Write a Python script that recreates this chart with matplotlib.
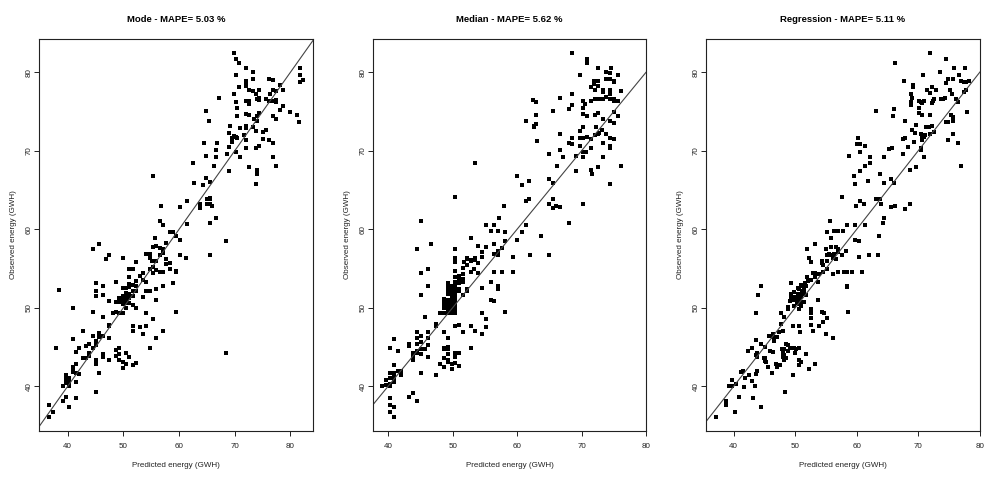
import numpy as np
import matplotlib.pyplot as plt

plt.rcParams['font.family'] = ['Liberation Sans', 'DejaVu Sans']

# (predicted, observed) pairs, one array per panel
mode_pts = np.array([
    (69.8,82.4),(70.2,81.75),(70.8,81.2),(72.0,80.5),(73.2,80.05),(70.2,79.6),(73.2,79.2),(72.0,78.9),
    (72.0,78.5),(72.0,78.3),(70.8,78.1),(72.6,77.8),(73.2,77.6),(74.4,77.8),(73.8,77.3),(76.2,79.2),
    (76.8,79.0),(78.1,78.4),(77.4,77.6),(76.8,77.7),(76.3,77.3),(78.7,77.8),(81.7,80.6),(81.7,79.6),
    (81.7,78.8),(82.3,79.0),(69.8,77.3),(67.2,76.7),(72.0,76.4),(72.6,76.4),(72.6,76.0),(70.2,76.2),
    (70.4,75.5),(70.4,74.4),(72.0,74.7),(72.6,74.5),(74.0,76.6),(74.4,76.7),(74.4,76.5),(75.6,76.6),
    (76.2,76.3),(76.8,76.4),(77.5,76.5),(77.5,76.2),(78.1,75.2),(78.7,75.7),(74.4,74.8),(74.0,74.4),
    (73.4,74.1),(74.0,73.8),(76.9,74.4),(77.4,74.1),(79.9,74.9),(81.1,74.5),(81.6,73.7),(64.9,75.1),
    (65.4,73.8),(69.2,73.2),(71.0,72.9),(72.0,73.2),(72.0,72.9),(73.2,73.0),(73.8,72.5),(75.1,72.4),
    (75.6,72.7),(69.0,72.3),(69.8,71.9),(70.2,71.7),(69.6,71.6),(70.4,71.6),(71.6,72.0),(72.1,71.4),
    (69.6,71.1),(69.0,70.5),(66.8,70.95),(64.4,70.95),(66.6,70.1),(68.6,69.6),(70.2,69.9),(70.2,69.8),
    (72.0,70.3),(73.8,70.4),(74.4,70.6),(75.0,71.5),(76.2,71.4),(76.8,70.95),(76.9,69.25),(77.4,68.1),
    (64.9,69.3),(66.6,69.2),(71.0,69.25),(66.2,68.1),(62.5,68.4),(69.0,67.4),(72.6,68.0),(74.0,67.6),
    (74.0,67.0),(73.8,65.8),(55.3,66.8),(64.9,66.5),(65.5,66.0),(62.6,65.85),(64.3,65.7),(61.4,63.6),
    (65.5,64.0),(65.1,63.8),(65.6,63.8),(63.8,63.2),(65.0,63.2),(65.6,63.2),(66.0,63.0),(63.8,62.7),
    (60.1,62.8),(56.8,63.0),(66.6,61.4),(65.6,60.75),(56.5,61.1),(57.1,60.6),(61.4,60.7),
    (68.4,58.45),(65.6,56.7),(61.3,56.4),(60.1,58.6),(60.1,56.75),(59.5,59.2),(58.9,59.7),(58.3,59.7),
    (57.7,58.2),(57.1,57.5),(57.1,57.0),(56.5,57.6),(56.5,56.75),(55.7,58.9),(55.9,57.9),(55.3,57.7),
    (54.7,56.8),(54.1,56.9),(54.7,56.4),(55.1,55.9),(55.9,56.0),(55.3,55.2),(54.7,54.9),(55.9,54.8),
    (57.7,56.2),(58.3,55.7),(57.7,55.6),(58.3,54.9),(59.5,54.5),(59.5,54.7),(58.9,53.2),(57.1,54.5),
    (56.5,54.5),(55.3,54.4),(53.5,54.4),(52.9,54.0),(52.3,55.8),(51.1,53.9),(51.7,55.0),(51.1,54.9),
    (53.5,53.6),(54.1,53.35),(52.3,53.4),(51.1,53.0),(51.1,52.6),(51.7,52.9),(52.3,52.8),(51.7,52.1),
    (52.3,52.1),(54.1,52.2),(54.7,52.2),(53.5,51.4),(55.9,52.4),(57.1,52.75),(55.9,51.0),(50.5,52.5),
    (49.9,52.5),(48.7,53.35),(50.5,51.9),(51.1,51.8),(51.7,51.5),(50.5,51.5),(49.9,51.5),(49.3,51.2),
    (49.9,51.0),(50.5,51.1),(51.1,51.2),(50.5,50.6),(51.1,50.6),(49.9,50.5),(49.3,50.7),(48.7,50.8),
    (51.7,50.3),(52.3,50.0),(50.5,50.0),(49.3,49.4),(48.7,49.5),(48.1,49.4),(49.9,49.3),(47.5,50.9),
    (47.5,47.8),(47.5,47.65),(46.3,48.8),(46.3,52.8),(46.3,51.6),(45.1,53.2),(45.1,52.2),(45.1,51.5),
    (44.5,49.5),(40.9,49.95),(38.5,52.3),(44.5,57.5),(45.7,58.1),(46.9,56.2),(47.5,56.75),(49.9,56.4),
    (54.1,49.3),(59.5,49.5),(55.3,48.6),(51.7,47.7),(51.7,47.0),(52.9,47.6),(54.1,47.7),(53.5,46.7),
    (55.9,46.1),(57.1,47.1),(54.7,44.85),(68.4,44.3),(42.7,47.0),(40.9,46.0),(41.5,44.4),(42.1,44.9),
    (43.3,45.1),(43.9,45.4),(44.5,46.4),(45.1,45.8),(45.1,45.2),(45.7,46.8),(46.3,46.4),(45.7,46.3),
    (47.5,46.2),(45.1,45.5),(44.5,44.85),(43.9,44.25),(43.9,43.9),(42.7,43.6),(43.3,43.6),(45.1,43.4),
    (45.1,42.9),(46.3,44.1),(46.3,43.7),(47.5,43.3),(48.7,44.6),(49.3,44.85),(48.7,43.9),(49.3,44.1),
    (49.3,43.3),(49.9,43.1),(49.9,42.3),(50.5,44.2),(50.5,42.8),(51.1,43.7),(51.7,42.7),(52.3,43.0),
    (45.7,41.7),(45.1,39.3),(40.9,42.4),(40.9,42.1),(40.9,41.8),(41.5,42.8),(41.5,41.7),(42.1,41.6),
    (41.5,40.5),(39.7,41.4),(39.7,40.9),(40.3,41.1),(39.7,40.4),(39.1,40.0),(40.3,40.0),(40.3,40.5),
    (39.1,38.1),(39.7,38.6),(40.3,37.4),(41.5,38.55),(36.7,37.6),(37.3,36.7),(36.7,36.1),(37.9,44.85),
])

median_pts = np.array([
    (68.6,82.4),(70.8,81.75),(70.8,81.2),(72.6,80.5),(74.5,80.6),(73.85,80.05),(75.6,79.6),(69.7,79.6),
    (74.4,79.9),(74.4,79.2),(75.1,78.9),(75.0,78.8),(73.85,79.1),(72.0,78.9),(72.6,78.9),(72.0,78.5),
    (72.6,78.2),(71.4,78.1),(72.1,77.75),(73.3,77.8),(73.3,77.5),(74.4,77.8),(74.4,77.2),(76.2,77.6),
    (68.5,77.3),(66.6,76.7),(62.5,76.5),(63.0,76.2),(68.5,75.8),(68.0,75.3),(65.5,75.1),(70.2,76.3),
    (70.6,76.0),(71.4,76.4),(72.1,76.6),(72.7,76.6),(73.3,76.6),(73.85,76.8),(74.4,76.65),(75.1,76.65),
    (75.1,76.4),(75.7,76.4),(70.2,75.5),(75.0,74.9),(70.2,74.7),(70.8,74.4),(72.1,74.5),(72.6,74.8),
    (73.3,74.1),(74.4,73.8),(75.0,73.6),(75.6,74.4),(61.4,73.8),(63.0,74.5),(63.0,73.4),(62.6,73.2),
    (62.6,73.0),(70.2,73.0),(69.7,72.5),(72.2,73.0),(73.2,72.6),(72.7,72.3),(72.6,72.1),(73.85,72.2),
    (72.1,72.0),(70.8,71.8),(69.7,71.6),(70.2,71.6),(68.6,71.6),(66.6,72.1),(63.1,71.2),(68.0,70.95),
    (68.6,70.9),(71.4,71.5),(74.4,71.6),(75.0,71.5),(73.3,70.95),(74.4,70.6),(74.4,70.4),(69.7,70.6),
    (71.4,70.3),(70.7,69.9),(70.2,69.8),(66.6,70.1),(64.9,69.6),(67.2,69.2),(69.1,69.3),(70.2,69.25),
    (73.3,69.25),(66.2,68.1),(72.6,68.0),(71.4,67.6),(71.6,67.0),(69.1,67.4),(76.2,68.1),(74.4,65.8),
    (53.5,68.4),(60.0,66.8),(61.9,66.1),(60.7,65.7),(64.9,66.4),(65.6,65.85),(50.4,64.1),(61.9,63.8),
    (61.4,63.6),(65.6,63.8),(64.9,63.2),(65.5,62.7),(66.0,63.0),(66.6,62.8),(70.2,63.2),(58.0,63.0),
    (57.2,61.4),(45.1,61.1),(55.2,60.6),(56.5,60.6),(61.4,60.6),(68.0,60.75),
    (63.7,59.2),(64.9,56.7),(62.0,56.7),(60.0,58.6),(60.7,59.6),(59.4,56.5),(59.4,54.6),(58.2,58.45),
    (58.2,59.7),(57.1,59.8),(55.9,59.8),(56.4,58.1),(57.6,57.6),(57.1,57.3),(57.1,56.9),(57.1,56.7),
    (56.5,56.8),(55.2,57.8),(54.6,57.1),(54.6,56.5),(54.0,57.9),(52.9,58.9),(53.5,56.4),(53.5,56.1),
    (52.9,56.1),(52.3,56.4),(52.3,56.2),(51.7,55.8),(52.3,55.4),(51.6,55.1),(52.9,55.9),(54.0,55.7),
    (53.4,54.9),(52.9,54.5),(54.0,54.4),(56.4,54.5),(57.6,54.5),(55.9,53.35),(54.6,52.5),(57.1,52.75),
    (57.1,52.4),(55.9,51.0),(56.5,50.9),(58.2,49.5),(50.4,57.5),(50.4,56.3),(50.4,55.8),(50.4,54.7),
    (50.4,53.9),(51.0,54.0),(51.0,53.7),(51.6,54.3),(51.6,53.7),(51.6,53.35),(51.0,53.1),(52.2,52.4),
    (52.2,52.1),(51.6,51.6),(51.0,52.4),(51.0,52.1),
    (50.4,53.3),(50.4,53.0),(50.4,52.75),(50.4,52.5),(50.4,52.2),(50.4,52.0),(50.4,51.7),(50.4,51.5),
    (50.4,51.2),(50.4,51.0),(50.4,50.7),(50.4,50.4),(50.4,50.2),(50.4,49.9),(50.4,49.7),(50.4,49.4),
    (49.85,52.8),(49.85,52.5),(49.85,52.2),(49.85,51.8),(49.85,51.6),(49.85,51.2),(49.85,50.9),
    (49.85,50.5),(49.85,50.3),(49.85,50.0),(49.85,49.8),(49.85,49.5),(49.85,49.3),
    (49.3,53.2),(49.3,52.7),(49.3,52.3),(49.3,52.2),(49.3,51.7),(49.3,51.0),(49.3,50.5),(49.3,50.2),
    (49.3,49.7),(49.3,49.4),(48.7,51.1),(48.7,50.9),(48.7,50.4),(48.7,50.0),(48.7,49.4),(48.1,49.4),
    (47.4,47.9),(47.4,47.65),(48.7,46.9),(49.3,46.2),(50.4,47.7),(51.0,47.8),(51.6,46.9),(52.9,47.7),
    (53.5,47.1),(54.6,46.7),(55.2,47.6),(54.6,49.3),(55.2,48.6),(52.9,44.85),
    (45.7,48.8),(46.2,46.9),(46.2,46.2),(45.1,46.4),(44.5,46.9),(44.5,46.1),(44.5,45.4),(45.1,45.7),
    (45.7,44.7),(46.2,45.2),(46.2,43.7),(45.1,44.75),(45.1,44.1),(44.5,44.5),(44.5,44.2),(43.9,44.25),
    (43.9,43.9),(43.9,43.4),(43.3,45.4),(43.3,45.1),(41.5,44.5),(40.3,44.9),(40.9,46.0),(40.9,42.7),
    (40.9,41.7),(41.5,42.0),(42.0,42.0),(42.0,41.4),(40.9,41.4),(40.9,41.0),(40.3,41.7),(40.3,41.0),
    (40.3,40.3),(40.9,40.6),(40.9,40.85),(39.7,40.8),(39.7,40.2),(39.1,40.0),(40.3,40.0),
    (45.1,41.7),(47.4,41.4),(45.1,54.4),(45.1,51.6),(46.2,55.0),(46.2,52.75),(44.5,57.5),(46.7,58.1),
    (48.7,44.9),(48.7,44.7),(49.3,45.0),(49.3,44.7),(49.3,44.1),(48.0,42.9),(48.7,43.6),(48.7,42.4),
    (49.3,43.3),(49.3,43.1),(49.85,42.8),(49.85,42.2),(50.4,44.2),(50.4,43.7),(50.4,43.0),(51.0,44.3),
    (51.0,42.6),(43.3,38.6),(43.9,39.2),(44.5,38.1),
    (40.3,38.55),(40.3,37.6),(40.3,36.7),(40.9,37.4),(40.9,36.1),
])

regression_pts = np.array([
    (72.0,82.4),(66.3,81.2),(74.6,81.75),(73.6,80.05),(75.8,80.5),(77.6,80.6),(76.6,79.6),(70.8,79.6),
    (74.9,79.1),(75.6,79.1),(74.5,78.6),(76.9,78.9),(77.4,78.8),(77.8,78.8),(78.3,78.9),(67.7,78.9),
    (69.2,78.35),(69.1,78.1),(72.2,78.1),(72.9,77.8),(71.5,77.7),(72.0,77.4),(75.1,77.75),(75.5,77.2),
    (77.8,77.8),(77.5,77.5),(68.8,77.3),(69.0,76.7),(68.9,76.2),(70.1,76.3),(70.4,76.2),(71.0,76.4),
    (70.7,76.05),(72.4,76.4),(72.6,76.65),(72.3,76.05),(73.7,76.65),(74.1,76.55),(74.4,76.7),(76.1,76.65),
    (76.5,76.2),(68.8,75.8),(70.1,75.5),(63.2,75.1),(66.0,75.3),(65.9,74.4),(70.2,74.8),(70.6,74.6),
    (72.0,74.5),(75.4,74.5),(75.6,74.3),(75.7,73.85),(74.6,73.7),(74.9,73.7),(77.9,74.9),(67.8,73.85),
    (69.6,73.3),(71.2,73.0),(71.8,73.0),(72.2,73.1),(69.0,72.65),(69.5,72.3),(70.4,72.1),(71.1,72.0),
    (70.9,71.8),(70.7,71.6),(70.6,71.4),(69.4,71.1),(72.6,72.4),(72.0,72.1),(75.6,72.2),(74.9,71.4),
    (76.4,70.95),(77.0,68.1),(67.6,71.55),(67.8,71.6),(68.3,70.5),(67.6,69.6),(68.6,67.6),(69.7,68.0),
    (70.4,70.35),(70.4,70.1),(70.9,69.2),(65.3,70.2),(65.8,70.4),(64.4,69.2),(66.05,65.85),(64.4,65.85),
    (63.8,67.1),(65.5,66.4),(60.2,71.6),(60.1,70.9),(60.6,70.9),(61.3,70.6),(60.6,69.8),(58.8,69.3),
    (62.2,69.25),(62.2,68.4),(61.3,68.1),(60.5,67.4),(59.5,66.8),(59.8,65.8),(61.8,66.1),(57.6,64.1),
    (60.6,63.6),(61.2,63.2),(59.9,63.0),(63.2,63.8),(63.8,63.8),(64.0,63.2),(65.5,62.8),(66.2,63.0),
    (67.9,62.6),(68.6,63.2),(64.4,61.4),(64.3,60.75),(55.6,61.1),(58.5,60.6),(59.8,60.6),(61.3,60.6),
    (63.7,59.2),(62.05,56.7),(63.5,56.7),(60.3,58.45),(59.8,58.6),(60.4,56.5),(60.9,54.6),(59.2,54.5),
    (58.5,54.5),(58.5,52.7),(57.8,59.8),(56.97,59.8),(56.3,59.8),(55.1,59.7),(55.8,58.95),(53.3,58.1),
    (55.0,57.5),(51.9,57.5),(55.9,57.8),(56.6,57.8),(56.97,57.5),(55.5,56.9),(55.2,56.75),(55.9,56.75),
    (56.3,56.9),(56.9,57.1),(56.2,56.4),(56.6,56.2),(57.6,56.75),(58.3,57.3),(52.3,56.4),(52.5,55.8),
    (54.3,56.0),(54.3,55.7),(54.5,55.4),(55.2,55.9),(55.1,54.9),(54.5,54.5),(53.95,54.3),(53.2,54.4),
    (52.9,54.4),(56.1,54.3),(56.97,54.5),(57.9,54.5),(58.4,52.75),(53.7,53.3),(53.2,53.95),(52.5,53.6),
    (51.9,53.95),(52.1,53.4),(51.6,53.1),(51.1,52.8),(50.9,52.9),(51.8,52.8),(51.5,52.5),(51.1,52.2),
    (50.7,52.4),(50.4,52.5),(49.8,52.0),(50.5,51.8),(50.8,51.7),(51.2,51.7),(51.5,52.0),(51.7,51.65),
    (50.9,51.4),(50.4,51.3),(49.8,51.4),(49.4,51.3),(49.6,51.0),(50.2,51.1),(50.7,51.0),(51.1,50.7),
    (50.7,50.5),(50.3,50.6),(50.9,50.2),(50.6,49.9),(49.8,50.2),(49.3,51.8),(49.3,53.2),(49.1,50.9),
    (48.9,50.1),(48.9,49.9),(48.2,48.8),(47.7,49.4),(47.7,47.9),(49.6,47.65),(50.7,47.7),(50.8,46.9),
    (51.5,50.7),(52.5,49.9),(52.65,49.4),(52.5,48.7),(52.65,47.8),(52.97,47.1),(53.7,51.0),(54.4,49.5),
    (54.7,49.35),(53.95,47.7),(53.95,47.65),(54.6,48.2),(55.1,48.7),(55.0,46.7),(56.2,46.1),(58.6,49.5),
    (47.35,46.9),(47.0,46.3),(46.4,46.3),(45.8,46.4),(43.9,51.6),(44.4,52.75),(43.7,49.4),(43.7,45.95),
    (44.4,45.4),(45.1,45.0),(43.0,44.9),(42.3,44.5),(43.7,44.0),(43.8,43.7),(44.9,43.6),(45.1,43.2),
    (45.6,42.4),(46.3,41.7),(43.8,42.0),(43.6,41.6),(42.5,41.4),(42.9,40.7),(41.8,41.1),(41.2,41.8),
    (41.5,41.9),(39.7,40.85),(39.2,40.0),(39.8,40.1),(40.4,40.3),(41.7,39.9),(43.5,40.0),(40.9,38.6),
    (43.1,38.5),(38.8,38.1),(38.7,37.6),(40.2,36.7),(44.5,37.4),(37.1,36.1),(48.4,39.3),
    (47.9,44.7),(48.2,44.8),(48.5,45.4),(48.9,45.2),(48.0,44.25),(48.2,44.0),(48.0,43.7),(48.5,43.65),
    (48.2,43.3),(48.8,44.5),(49.2,44.9),(49.8,44.9),(50.1,44.8),(50.0,44.25),(50.7,44.85),(50.7,43.3),
    (50.9,43.1),(50.7,42.7),(51.7,44.1),(52.2,42.2),(53.3,42.8),(49.7,41.4),(47.0,42.4),(46.4,44.4),
    (46.9,42.9),(47.6,42.7),(45.1,43.65),(45.2,43.1),(43.8,44.2),(46.6,45.8),(46.4,46.7),(45.9,44.5),
    (48.0,47.0),
])

titles = ["Mode - MAPE= 5.03 %", "Median - MAPE= 5.62 %", "Regression - MAPE= 5.11 %"]
xlims = [(34.85, 84.06), (37.66, 77.7), (35.5, 80.05)]
ylim = (34.3, 84.26)

fig = plt.figure(figsize=(10, 4.8), dpi=100)
lefts = [0.039, 0.373, 0.706]
widths = [0.274, 0.273, 0.274]

for i, pts in enumerate([mode_pts, median_pts, regression_pts]):
    ax = fig.add_axes([lefts[i], 0.102, widths[i], 0.817])
    ax.scatter(pts[:, 0], pts[:, 1], s=5, marker='s', c='black', linewidths=0)
    ax.axline((40, 40), slope=1, color='#444444', lw=0.8)
    ax.set_xlim(xlims[i])
    ax.set_ylim(ylim)
    ax.set_xticks(np.arange(40, 81, 10))
    ax.set_yticks(np.arange(40, 81, 10))
    ax.tick_params(direction='out', length=3.6, width=0.7, labelsize=5.8, colors='#222222')
    ax.tick_params(axis='x', pad=5)
    ax.tick_params(axis='y', pad=1)
    for lab in ax.get_yticklabels():
        lab.set_rotation(90)
        lab.set_va('center')
    for sp in ax.spines.values():
        sp.set_linewidth(0.8)
        sp.set_color('#222222')
    ax.set_title(titles[i], fontsize=6.8, fontweight='bold', pad=12)
    ax.set_xlabel('Predicted energy (GWH)', fontsize=5.8, labelpad=9, color='#222222')
    ax.set_ylabel('Observed energy (GWH)', fontsize=5.8, labelpad=6, color='#222222')

plt.savefig("out.png", dpi=100)
